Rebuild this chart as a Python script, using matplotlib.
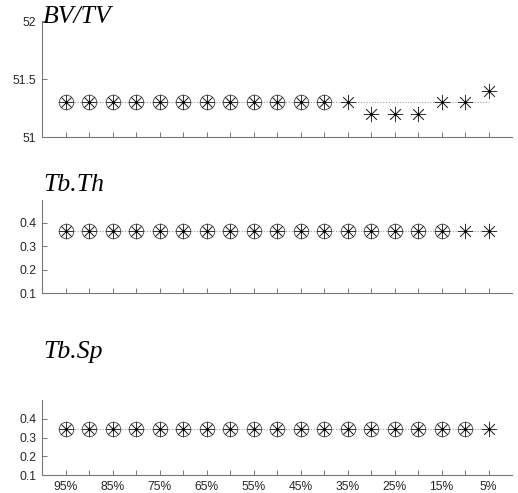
import matplotlib.pyplot as plt
import numpy as np

# sample fraction (%) on the x axis
pct = [95, 90, 85, 80, 75, 70, 65, 60, 55, 50, 45, 40, 35, 30, 25, 20, 15, 10, 5]

bvtv = [51.3] * 13 + [51.2, 51.2, 51.2, 51.3, 51.3, 51.4]
bvtv_ref = 51.3
bvtv_circ = [True] * 12 + [False] * 7

tbth = [0.365] * 19
tbth_ref = 0.365
tbth_circ = [True] * 17 + [False] * 2

tbsp = [0.348] * 19
tbsp_ref = 0.348
tbsp_circ = [True] * 18 + [False] * 1

titles = ["BV/TV", "Tb.Th", "Tb.Sp"]
yticks = [[51, 51.5, 52], [0.1, 0.2, 0.3, 0.4], [0.1, 0.2, 0.3, 0.4]]
yticklabels = [["51", "51.5", "52"], ["0.1", "0.2", "0.3", "0.4"], ["0.1", "0.2", "0.3", "0.4"]]
ylims = [(51, 52), (0.1, 0.497), (0.1, 0.5)]

W, H = 518, 493
# axes boxes in pixels: left, right, top, bottom
boxes = [(42, 512, 21, 137), (42, 512, 200, 293), (42, 512, 400, 475)]
title_base = [23, 191, 358]

fig = plt.figure(figsize=(W / 100, H / 100), dpi=100)

series = [(bvtv, bvtv_ref, bvtv_circ), (tbth, tbth_ref, tbth_circ), (tbsp, tbsp_ref, tbsp_circ)]
mcol = "#333333"

for k, (vals, ref, circ) in enumerate(series):
    l, r, t, b = boxes[k]
    ax = fig.add_axes([l / W, 1 - b / H, (r - l) / W, (b - t) / H])
    x = np.array(pct)
    y = np.array(vals)
    c = np.array(circ)

    ax.plot([pct[0], pct[-1]], [ref, ref], linestyle=(0, (1, 1.5)), color="#999999", lw=0.8, zorder=1)
    ax.plot(x, y, linestyle="none", marker=(8, 2, 0), ms=11, mec=mcol, mew=0.55, zorder=3)
    ax.plot(x[c], y[c], linestyle="none", marker="o", ms=10.5, mfc="none", mec=mcol, mew=0.55, zorder=3)
    ax.plot(x, y, linestyle="none", marker=".", ms=2, color="k", zorder=4)

    ax.set_xlim(100, 0)
    ax.set_ylim(*ylims[k])
    ax.set_xticks(pct)
    if k == 2:
        ax.set_xticklabels([f"{p}%" if i % 2 == 0 else "" for i, p in enumerate(pct)])
    else:
        ax.set_xticklabels([])
    ax.set_yticks(yticks[k])
    ax.set_yticklabels(yticklabels[k])

    for s in ["top", "right"]:
        ax.spines[s].set_visible(False)
    for s in ["left", "bottom"]:
        ax.spines[s].set_color("#777777")
        ax.spines[s].set_linewidth(0.8)
    ax.tick_params(direction="in", length=3.5, width=0.7, color="#777777",
                   labelcolor="#262626", labelsize=8.7)
    ax.tick_params(axis="y", pad=4)
    ax.tick_params(axis="x", pad=4)
    for lab in ax.get_xticklabels() + ax.get_yticklabels():
        lab.set_family("Liberation Sans")

    fig.text(43 / W, 1 - title_base[k] / H, titles[k], family="Liberation Serif",
             style="italic", fontsize=18.5, ha="left", va="baseline", color="k")

fig.savefig("out.png", dpi=100)
